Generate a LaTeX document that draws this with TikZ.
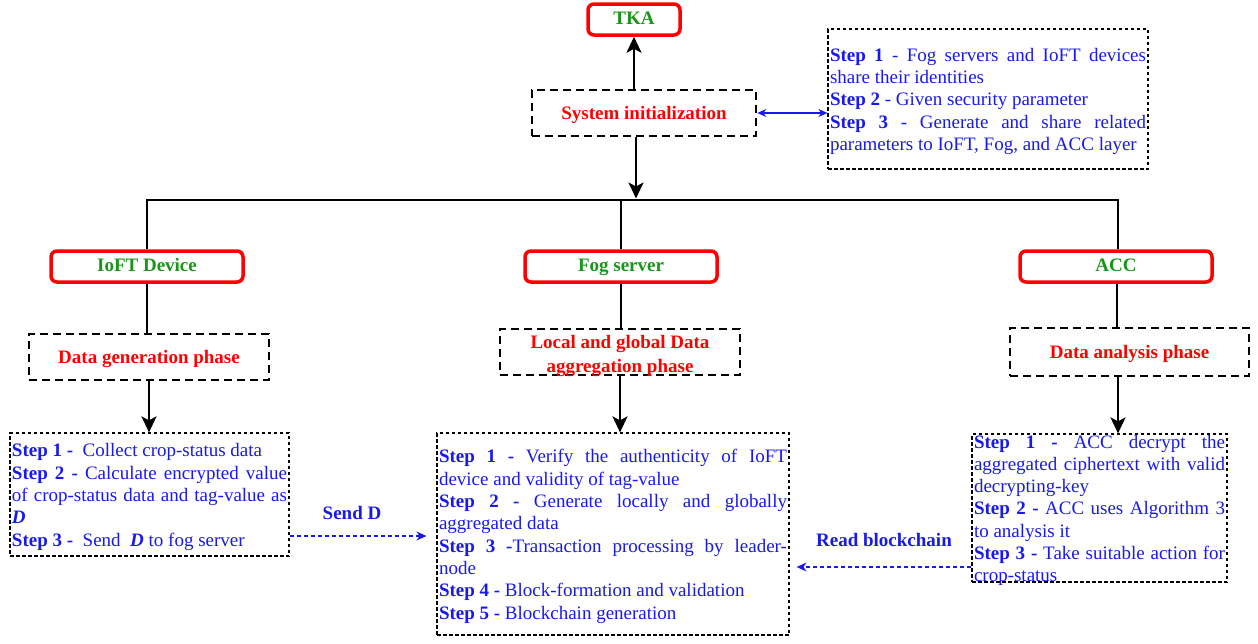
\documentclass[tikz,border=0pt]{standalone}
\usepackage{fontspec}
\setmainfont{Liberation Serif}
\usetikzlibrary{arrows.meta}
\definecolor{tblue}{RGB}{25,25,235}
\definecolor{tred}{RGB}{255,0,0}
\definecolor{tgreen}{RGB}{25,150,25}
\tikzset{
 entity/.style={draw=tred, line width=3.5pt, rounded corners=6pt, minimum width=192pt, minimum height=31pt, inner sep=0pt, text height=14pt, text depth=3.4pt, font=\fontsize{19}{22}\selectfont\bfseries, text=tgreen},
 phasebox/.style={draw=black, line width=2.6pt, dash pattern=on 8pt off 5pt, minimum width=240pt, minimum height=46pt, inner sep=0pt, font=\fontsize{19}{24}\selectfont\bfseries, text=tred, align=center},
 phase/.style={phasebox, text height=17pt, text depth=3.4pt},
 stepbox/.style={draw=black, line width=1.2pt, dash pattern=on 3.5pt off 2.5pt, inner xsep=2pt, inner ysep=0pt, text=tblue, align=justify, font=\fontsize{19}{22.3}\selectfont, execute at begin node={\rule{0pt}{18pt}}},
 conn/.style={line width=2.5pt, black},
 arr/.style={conn, -{Stealth[length=16pt,width=15pt,inset=4pt]}},
 blink/.style={tblue, line width=1.2pt, dash pattern=on 4pt off 3pt, -{Stealth[length=10pt,width=9pt]}},
 lbl/.style={text=tblue, font=\fontsize{19}{22}\selectfont\bfseries},
}
\begin{document}
\begin{tikzpicture}[x=1pt,y=-1pt]
\useasboundingbox (0,0) rectangle (1258,643);
% entities
\node[entity, minimum width=92pt] (tka) at (634,19.5) {TKA};
\node[entity] (ioft) at (147,266.5) {IoFT Device};
\node[entity] (fog) at (621,266.5) {Fog server};
\node[entity] (acc) at (1116,266.5) {ACC};
% phases
\node[phase, minimum width=224pt] (sys) at (644,113) {System initialization};
\node[phase] (dg) at (149,357) {Data generation phase};
\node[phasebox, inner ysep=-2pt] (lg) at (620,352) {\rule{0pt}{21pt}Local and global Data\\aggregation phase};
\node[phase, minimum width=239pt, minimum height=48pt] (da) at (1129.5,352) {Data analysis phase};
% step boxes
\node[stepbox, text width=316pt, minimum height=140pt] (s0) at (988,99) {\textbf{Step 1} - Fog servers and IoFT devices\linebreak share their identities\\
\textbf{Step 2} - Given security parameter\\
\textbf{Step 3} - Generate and share related\linebreak parameters to IoFT, Fog, and ACC layer};
\node[stepbox, text width=275pt, minimum height=123pt] (iofts) at (149.5,494.5) {\textbf{Step 1 -}\ \ Collect crop-status data\\
\textbf{Step 2 -} Calculate encrypted value\linebreak of crop-status data and tag-value as\linebreak \textbf{\textit{D}}\\
\textbf{Step 3 -}\ \ Send\ \ \textbf{\textit{D}} to fog server};
\node[stepbox, text width=348pt, minimum height=202pt] (fogs) at (613,534) {\textbf{Step 1 -} Verify the authenticity of IoFT\linebreak device and validity of tag-value\\
\textbf{Step 2 -} Generate locally and globally\linebreak aggregated data\\
\textbf{Step 3 -}Transaction processing by leader-\linebreak node\\
\textbf{Step 4 -} Block-formation and validation\\
\textbf{Step 5 -} Blockchain generation};
\node[stepbox, text width=251pt, minimum height=148pt, inner ysep=-4pt] (accs) at (1099.5,508) {\textbf{Step 1 -} ACC decrypt the\linebreak aggregated ciphertext with valid\linebreak decrypting-key\\
\textbf{Step 2 -} ACC uses Algorithm 3\linebreak to analysis it\\
\textbf{Step 3 -} Take suitable action for\linebreak crop-status};
% labels
\node[lbl] (sendlbl) at (352,513) {Send D};
\node[lbl] (readlbl) at (884,540) {Read blockchain};
% connectors
\coordinate (bus) at (636,200);
\coordinate (busTop) at (636,198.5);
\draw[arr] (tka.south |- sys.north) -- (tka.south);
\draw[arr] (sys.south -| busTop) -- (busTop);
\draw[conn] (ioft.north) |- (bus) -| ([xshift=2pt]acc.north);
\draw[conn] (fog.north) -- (fog.north |- bus);
\draw[conn] (ioft.south) -- (ioft.south |- dg.north);
\draw[conn] (fog.south) -- (fog.south |- lg.north);
\draw[conn] ([xshift=1pt]acc.south) -- ([xshift=1pt]acc.south |- da.north);
\draw[arr] (dg.south) -- (dg.south |- iofts.north);
\draw[arr] (lg.south) -- (lg.south |- fogs.north);
\draw[arr] ([xshift=-11.5pt]da.south) -- ([xshift=-11.5pt]da.south |- accs.north);
\draw[tblue, line width=1.2pt, {Stealth[length=9pt,width=8pt]}-{Stealth[length=9pt,width=8pt]}] (sys.east) -- (sys.east -| s0.west);
\draw[blink, shorten >=10pt] ([yshift=-41.5pt]iofts.east) -- ([yshift=-41.5pt]iofts.east -| fogs.west);
\draw[blink, shorten >=7pt] ([yshift=-59pt]accs.west) -- ([yshift=-59pt]accs.west -| fogs.east);
\end{tikzpicture}
\end{document}
